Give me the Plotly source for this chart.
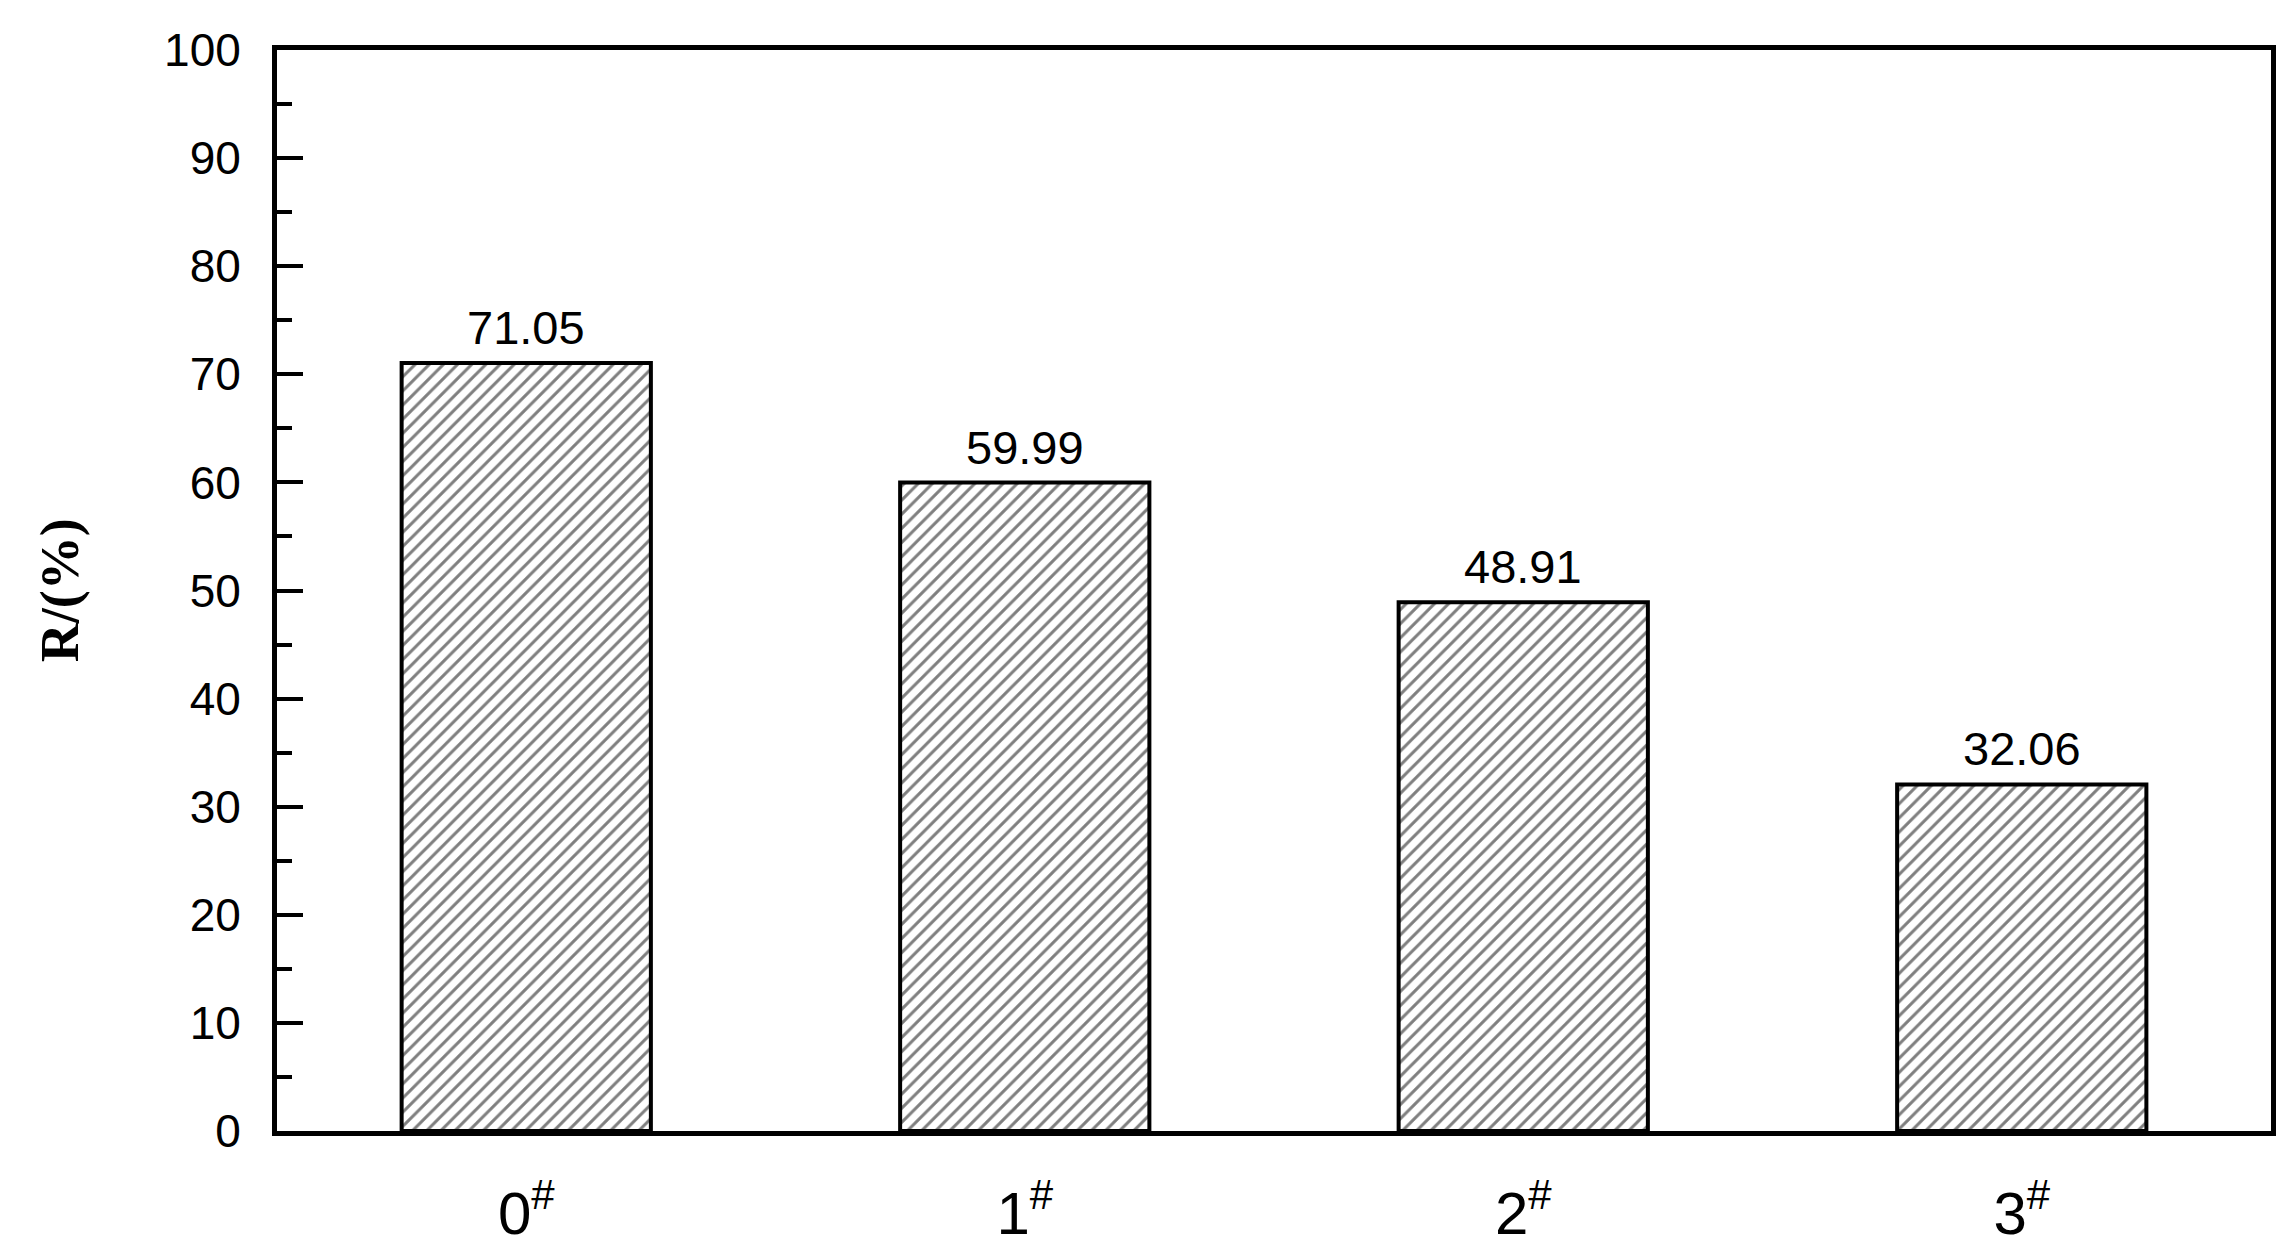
import plotly.graph_objects as go

# -----------------------------
# Data
# -----------------------------
samples = ["0", "1", "2", "3"]
r_values = [71.05, 59.99, 48.91, 32.06]
value_labels = ["71.05", "59.99", "48.91", "32.06"]
tick_labels = ["0<sup>#</sup>", "1<sup>#</sup>", "2<sup>#</sup>", "3<sup>#</sup>"]

SANS = "Liberation Sans, Arial, sans-serif"
SERIF = "Liberation Serif, Times New Roman, serif"

# -----------------------------
# Figure
# -----------------------------
fig = go.Figure()

fig.add_trace(
    go.Bar(
        x=samples,
        y=r_values,
        width=0.5,
        marker=dict(
            color="white",
            line=dict(color="black", width=4),
            pattern=dict(shape="/", size=10, solidity=0.3,
                         fgcolor="black", bgcolor="white"),
        ),
        showlegend=False,
    )
)

# value labels above bars
for s, v, lab in zip(samples, r_values, value_labels):
    fig.add_annotation(
        x=s, y=v, text=lab, showarrow=False,
        yanchor="bottom", yshift=7,
        font=dict(family=SANS, size=47, color="black"),
    )

# y-axis title, placed left of the tick labels
fig.add_annotation(
    xref="paper", yref="paper", x=-0.109, y=0.5,
    text="<b>R/(%)</b>", textangle=-90, showarrow=False,
    xanchor="center", yanchor="middle",
    font=dict(family=SERIF, size=54, color="black"),
)

fig.update_layout(
    width=2288,
    height=1251,
    margin=dict(l=269, r=25, t=42, b=108),
    paper_bgcolor="white",
    plot_bgcolor="white",
    bargap=0.5,
)

fig.update_xaxes(
    type="category",
    range=[-0.5, 3.5],
    tickvals=samples,
    ticktext=tick_labels,
    ticks="",
    showline=True, linecolor="black", linewidth=5, mirror=True,
    showgrid=False, zeroline=False,
    tickfont=dict(family=SANS, size=60, color="black"),
    ticklabelstandoff=26,
)

fig.update_yaxes(
    range=[0, 100],
    dtick=10,
    ticks="inside", ticklen=26, tickwidth=4, tickcolor="black",
    minor=dict(dtick=5, ticks="inside", ticklen=15, tickwidth=4, tickcolor="black"),
    showline=True, linecolor="black", linewidth=5, mirror=True,
    showgrid=False, zeroline=False,
    tickfont=dict(family=SANS, size=46, color="black"),
    ticklabelstandoff=22,
)

fig.write_html("out.html")
